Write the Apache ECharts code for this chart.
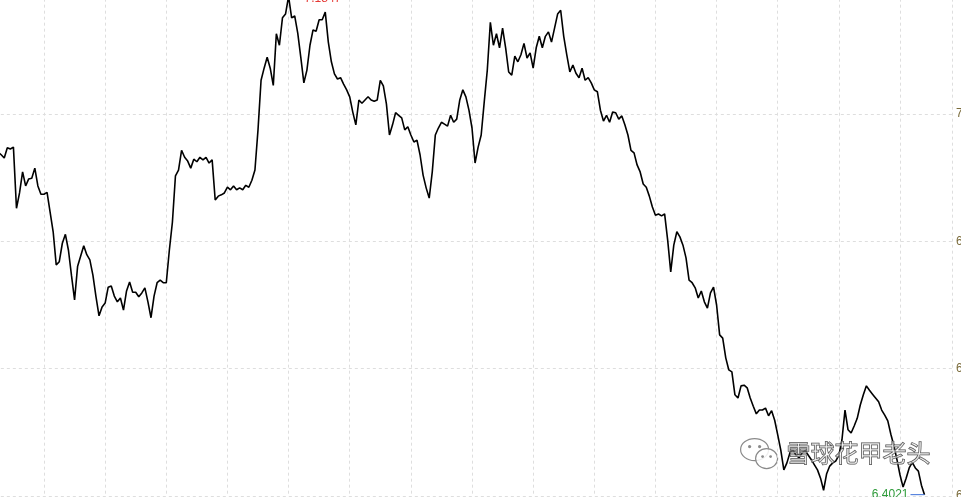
<!DOCTYPE html>
<html>
<head>
<meta charset="utf-8">
<script src="https://cdn.jsdelivr.net/npm/echarts@6/dist/echarts.min.js"></script>
<style>html,body{margin:0;padding:0;background:#fff;}#c{width:961px;height:497px;}</style>
</head>
<body>
<div id="c"></div>
<script>
// trading-day index of the first value shown
const firstDay = 5;
// closing values (USD/CNY style series)
const values = [
6.940,
6.936, 6.931, 6.947, 6.945, 6.948, 6.852, 6.876, 6.909, 6.887, 6.898, 6.899, 6.915, 6.887, 6.874,
6.874, 6.877, 6.846, 6.815, 6.763, 6.768, 6.797, 6.811, 6.786, 6.746, 6.708, 6.761, 6.777, 6.793, 6.779, 6.771, 6.747, 6.713, 6.683, 6.697,
6.703, 6.728, 6.730, 6.714, 6.705, 6.711, 6.692, 6.722, 6.736, 6.720, 6.720, 6.713, 6.719, 6.727, 6.705, 6.680, 6.714, 6.735, 6.739, 6.735,
6.735, 6.786, 6.830, 6.903, 6.912, 6.943, 6.932, 6.926, 6.915, 6.929, 6.925, 6.932, 6.928, 6.932, 6.923, 6.928, 6.865, 6.871, 6.873, 6.876,
6.885, 6.881, 6.887, 6.881, 6.884, 6.881, 6.888, 6.885, 6.896, 6.912, 6.975, 7.053, 7.072, 7.089, 7.072, 7.045, 7.126, 7.108, 7.151, 7.157,
7.1847, 7.151, 7.154, 7.127, 7.089, 7.049, 7.069, 7.108, 7.132, 7.130, 7.148, 7.148, 7.160, 7.113, 7.082, 7.063, 7.055, 7.057, 7.047, 7.038,
7.027, 7.003, 6.983, 7.022, 7.017, 7.022, 7.027, 7.022, 7.020, 7.022, 7.053, 7.044, 7.016, 6.967, 6.983, 7.002, 6.998, 6.994, 6.975, 6.980,
6.967, 6.956, 6.959, 6.936, 6.904, 6.884, 6.868, 6.909, 6.967, 6.978, 6.987, 6.984, 6.981, 6.998, 6.987, 6.992, 7.022, 7.038, 7.027, 7.006,
6.978, 6.923, 6.948, 6.967, 7.019, 7.069, 7.144, 7.108, 7.126, 7.104, 7.135, 7.104, 7.066, 7.061, 7.091, 7.082, 7.093, 7.111, 7.088, 7.096,
7.072, 7.104, 7.122, 7.104, 7.122, 7.129, 7.113, 7.135, 7.157, 7.163, 7.122, 7.093, 7.066, 7.077, 7.064, 7.057, 7.072, 7.053, 7.057, 7.049,
7.038, 7.035, 7.006, 6.989, 6.998, 6.987, 7.003, 7.002, 6.992, 6.997, 6.983, 6.967, 6.943, 6.939, 6.920, 6.909, 6.890, 6.885, 6.871, 6.854,
6.841, 6.843, 6.840, 6.843, 6.802, 6.752, 6.794, 6.815, 6.807, 6.794, 6.774, 6.739, 6.735, 6.727, 6.711, 6.722, 6.705, 6.695, 6.719, 6.728,
6.700, 6.653, 6.648, 6.617, 6.598, 6.595, 6.559, 6.554, 6.573, 6.574, 6.570, 6.554, 6.541, 6.529, 6.535, 6.535, 6.538, 6.526, 6.534, 6.519,
6.496, 6.472, 6.441, 6.452, 6.468, 6.472, 6.464, 6.460, 6.468, 6.471, 6.464, 6.457, 6.449, 6.441, 6.428, 6.409, 6.435, 6.447, 6.452, 6.455,
6.464, 6.488, 6.535, 6.504, 6.499, 6.510, 6.522, 6.543, 6.559, 6.573, 6.566, 6.560, 6.554, 6.548, 6.535, 6.527, 6.518, 6.497, 6.479, 6.457,
6.433, 6.414, 6.428, 6.444, 6.453, 6.444, 6.439, 6.417, 6.4021
];
// y axis ticks
const yMin = 6.4, yMax = 7.2, yStep = 0.2;
// x axis (trading days), one vertical grid line every 20 days
const xMin = 0, xMax = 317, xStep = 20;
const watermarkText = '雪球花甲老头';

const seriesData = values.map((v, i) => [firstDay + i, v]);

const chart = echarts.init(document.getElementById('c'), null, {renderer: 'canvas'});
const gridColor = '#dedede';
chart.setOption({
  animation: false,
  backgroundColor: '#ffffff',
  grid: {left: -17.15, right: 9, top: -13.33, bottom: 1, containLabel: false, outerBoundsMode: 'none'},
  xAxis: {
    type: 'value', min: xMin, max: xMax, interval: xStep,
    axisLine: {show: false}, axisTick: {show: false}, axisLabel: {show: false},
    splitLine: {show: true, lineStyle: {color: gridColor, type: [3, 3], width: 1}}
  },
  yAxis: {
    type: 'value', position: 'right', min: yMin, max: yMax, interval: yStep,
    axisLine: {show: true, lineStyle: {color: '#cfcfcf', width: 1}},
    axisTick: {show: false},
    axisLabel: {show: true, margin: 4, color: '#7a6b3a', fontSize: 12, fontFamily: 'Arial, Liberation Sans, sans-serif',
      formatter: v => v.toFixed(2)},
    splitLine: {show: true, lineStyle: {color: gridColor, type: [3, 3], width: 1}}
  },
  series: [{
    type: 'line',
    data: seriesData,
    showSymbol: false,
    symbol: 'none',
    clip: false,
    lineStyle: {color: '#000000', width: 1.6},
    markPoint: {
      animation: false,
      data: [
        {type: 'max', symbol: 'rect', symbolSize: [14, 1], symbolOffset: [7, 0],
          itemStyle: {color: '#3a6fd8'},
          label: {show: true, position: 'right', distance: 2, offset: [0, 2], color: '#e53935', fontSize: 12,
            fontFamily: 'Arial, Liberation Sans, sans-serif', formatter: p => Number(p.value).toFixed(4)}},
        {type: 'min', symbol: 'rect', symbolSize: [14, 1], symbolOffset: [-7, 0],
          itemStyle: {color: '#3a6fd8'},
          label: {show: true, position: 'left', distance: 2, offset: [0, 0], color: '#2e9b3a', fontSize: 12,
            fontFamily: 'Arial, Liberation Sans, sans-serif', formatter: p => Number(p.value).toFixed(4)}}
      ]
    }
  }],
  graphic: [
    {type: 'group', left: 740, top: 438, z: 100, children: [
      {type: 'ellipse', shape: {cx: 15, cy: 12, rx: 14, ry: 11},
        style: {fill: 'rgba(255,255,255,0.7)', stroke: '#8a8a8a', lineWidth: 1.2}},
      {type: 'circle', shape: {cx: 10, cy: 9, r: 1.6}, style: {fill: '#8a8a8a'}},
      {type: 'circle', shape: {cx: 20, cy: 9, r: 1.6}, style: {fill: '#8a8a8a'}},
      {type: 'ellipse', shape: {cx: 27, cy: 21, rx: 11, ry: 10},
        style: {fill: 'rgba(255,255,255,0.85)', stroke: '#8a8a8a', lineWidth: 1.2}},
      {type: 'circle', shape: {cx: 23, cy: 19, r: 1.4}, style: {fill: '#8a8a8a'}},
      {type: 'circle', shape: {cx: 31, cy: 19, r: 1.4}, style: {fill: '#8a8a8a'}}
    ]},
    {type: 'text', left: 786, top: 440, z: 100,
      style: {text: watermarkText, font: '24px "Noto Sans CJK SC", sans-serif',
        fill: 'rgba(255,255,255,0.45)', stroke: '#4a4a4a', lineWidth: 1}}
  ]
});
</script>
</body>
</html>
